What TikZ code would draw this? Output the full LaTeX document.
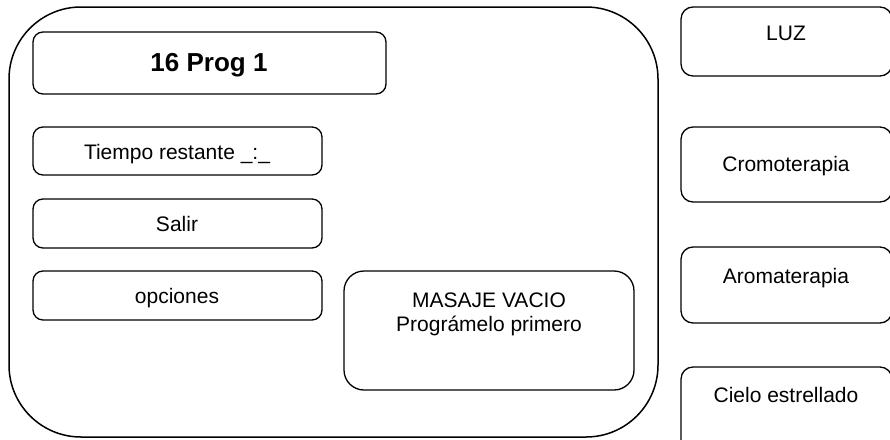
\documentclass[tikz,border=0pt]{standalone}
\usepackage{fontspec}
\setmainfont{Liberation Sans}
\begin{document}
\begin{tikzpicture}[x=1pt,y=-1pt,
  frame/.style={draw=black,line width=1.5pt,rounded corners=72pt},
  btn/.style={draw=black,line width=1.3pt,rounded corners=10pt},
  side/.style={draw=black,line width=1.3pt,rounded corners=12pt},
  msg/.style={draw=black,line width=1.3pt,rounded corners=20pt},
  lbl/.style={font=\fontsize{21}{24}\selectfont,anchor=base,inner sep=0pt,align=center},
  ttl/.style={font=\fontsize{26}{30}\selectfont\bfseries,anchor=base,inner sep=0pt}]
\useasboundingbox (0,0) rectangle (890,439);
\clip (0,0) rectangle (890,439);
% main frame
\draw[frame] (9,7) rectangle (658,437);
\coordinate (frame) at (333,222);
% left buttons
\draw[btn] (33,32) rectangle (386,94);
\node[ttl] (title) at (209,71) {16 Prog 1};
\draw[btn] (33,127) rectangle (322,175);
\node[lbl] (tiempo) at (177,159) {Tiempo restante \_:\_};
\draw[btn] (33,199) rectangle (322,248);
\node[lbl] (salir) at (177,231) {Salir};
\draw[btn] (33,271) rectangle (322,320);
\node[lbl] (opciones) at (177,303) {opciones};
% message box
\draw[msg] (344,271) rectangle (634,390);
\node[lbl] (masaje) at (489,307) {MASAJE VACIO};
\node[lbl] (prog) at (489,331) {Prográmelo primero};
% right side boxes
\draw[side] (681,7) rectangle (892,76);
\node[lbl] (luz) at (786,40) {LUZ};
\draw[side] (681,127) rectangle (892,202);
\node[lbl] (cromo) at (786,171) {Cromoterapia};
\draw[side] (681,247) rectangle (892,323);
\node[lbl] (aroma) at (786,283) {Aromaterapia};
\draw[side] (681,367) rectangle (892,460);
\node[lbl] (cielo) at (786,402) {Cielo estrellado};
\end{tikzpicture}
\end{document}
